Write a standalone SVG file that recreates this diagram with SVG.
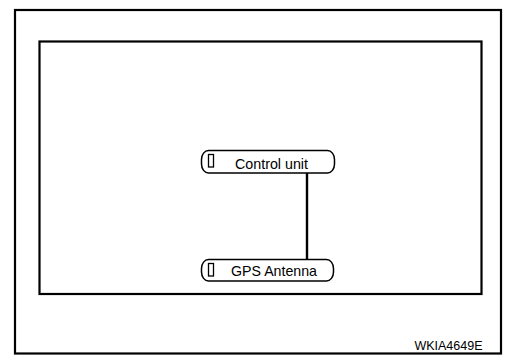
<svg xmlns="http://www.w3.org/2000/svg" width="506" height="356" viewBox="0 0 506 356">
<style>
.frame{fill:none;stroke:#000;stroke-width:2.2}
.node{fill:#fff;stroke:#000;stroke-width:1.5}
.icon{fill:none;stroke:#000;stroke-width:1.3}
.lbl{font-family:"Liberation Sans",Arial,sans-serif;font-size:15px;fill:#000}
.code{font-family:"Liberation Sans",Arial,sans-serif;font-size:12.5px;fill:#000}
.wire{stroke:#000;stroke-width:2.4;fill:none}
</style>
<rect width="506" height="356" fill="#fff"/>
<rect class="frame" x="15" y="10" width="486" height="343.5"/>
<rect class="frame" x="39.5" y="41.5" width="442" height="252.5"/>
<g id="connectors">
<line class="wire" x1="307" y1="173" x2="307" y2="259"/>
</g>
<g id="control-unit">
<rect class="node" x="201.5" y="150.5" width="133" height="22.5" rx="7" ry="9"/>
<rect class="icon" x="208.5" y="154.5" width="5" height="12.5"/>
<text class="lbl" x="235" y="169" textLength="73" lengthAdjust="spacingAndGlyphs">Control unit</text>
</g>
<g id="gps-antenna">
<rect class="node" x="201.5" y="259.5" width="132" height="21.5" rx="7" ry="9"/>
<rect class="icon" x="208.5" y="263.5" width="5" height="12.5"/>
<text class="lbl" x="231" y="276" textLength="86" lengthAdjust="spacingAndGlyphs">GPS Antenna</text>
</g>
<text class="code" x="482.5" y="350" text-anchor="end">WKIA4649E</text>
</svg>
